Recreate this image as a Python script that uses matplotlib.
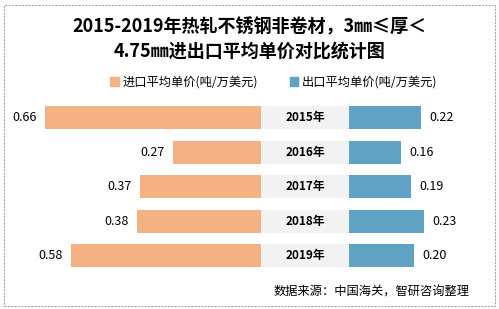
import matplotlib.pyplot as plt
import matplotlib.patches as mpatches
import numpy as np

plt.rcParams['font.family'] = ['Noto Sans CJK SC', 'DejaVu Sans']

years = ['2015年', '2016年', '2017年', '2018年', '2019年']
import_price = [0.66, 0.27, 0.37, 0.38, 0.58]
export_price = [0.22, 0.16, 0.19, 0.23, 0.20]

import_label = '进口平均单价(吨/万美元)'
export_label = '出口平均单价(吨/万美元)'
title = '2015-2019年热轧不锈钢非卷材，3㎜≤厚＜\n4.75㎜进出口平均单价对比统计图'
source = '数据来源：中国海关，智研咨询整理'

c_imp = '#F4B183'
c_exp = '#60A2C3'
c_mid = '#F2F2F2'

W, H = 499, 309
px_per_unit = 327.0
center_px = 305.0
gap = 44.0 / px_per_unit
row0_px, row_step = 117.5, 34.6

fig = plt.figure(figsize=(W / 100, H / 100), dpi=100)
ax = fig.add_axes([0, 0, 1, 1])
ax.set_xlim(-center_px / px_per_unit, (W - center_px) / px_per_unit)
ax.set_ylim((H - row0_px) / row_step, -row0_px / row_step)
ax.axis('off')

y = np.arange(len(years))
bh = 0.66
imp = np.array(import_price)
exp_ = np.array(export_price)

ax.barh(y, -imp, left=-gap, height=bh, color=c_imp, label=import_label)
ax.barh(y, 2 * gap, left=-gap, height=bh, color=c_mid)
ax.barh(y, exp_, left=gap, height=bh, color=c_exp, label=export_label)

for i in range(len(years)):
    ax.text(0, y[i], years[i], ha='center', va='center', fontsize=8.5,
            fontweight='bold', color='black')
    ax.annotate(f'{imp[i]:.2f}', xy=(-gap - imp[i], y[i]), xytext=(-6, 0),
                textcoords='offset points', ha='right', va='center', fontsize=9)
    ax.annotate(f'{exp_[i]:.2f}', xy=(gap + exp_[i], y[i]), xytext=(6, 0),
                textcoords='offset points', ha='left', va='center', fontsize=9)

fig.text(0.5, 1 - 39 / H, title, ha='center', va='center', fontsize=13,
         fontweight='bold', linespacing=1.3)

handles = [mpatches.Patch(color=c_imp), mpatches.Patch(color=c_exp)]
fig.legend(handles, [import_label, export_label], loc='center',
           bbox_to_anchor=(274 / W, 1 - 82 / H), ncol=2, frameon=False,
           fontsize=8.8, handlelength=0.7, handleheight=0.7, handletextpad=0.3,
           columnspacing=2.6)

fig.text(470 / W, 1 - 292 / H, source, ha='right', va='center', fontsize=8.8)

fig.patches.append(mpatches.Rectangle((4 / W, 3 / H), 491 / W, 301 / H,
                                      transform=fig.transFigure, fill=False,
                                      edgecolor='#A6A6A6', linestyle=(0, (2, 1)),
                                      linewidth=0.8))

plt.savefig('out.png', dpi=100)
